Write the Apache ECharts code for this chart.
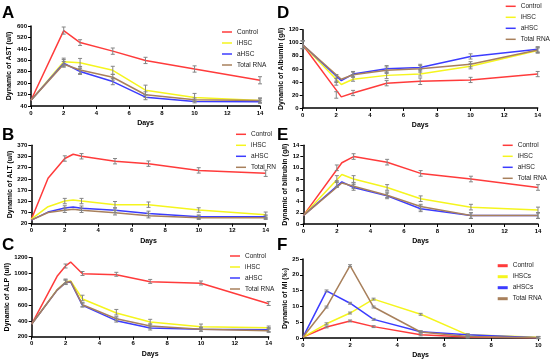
<!DOCTYPE html>
<html><head><meta charset="utf-8">
<script src="https://cdn.jsdelivr.net/npm/echarts@6/dist/echarts.min.js"></script>
<style>html,body{margin:0;padding:0;background:#fff}#c{width:550px;height:363px}</style>
</head><body><div id="c"></div>
<script>
// ---------- DATA ----------
// Panel A: AST
const A_x = [0, 2, 3, 5, 7, 10, 14];
const A_ctrl = [80, 568, 484, 424, 359, 299, 220];
const A_ihsc = [80, 350, 343, 290, 151, 100, 79];
const A_ahsc = [80, 340, 281, 211, 102, 72, 70];
const A_trna = [80, 332, 292, 241, 119, 84, 79];
const A_errX = [2, 3, 5, 7, 10, 14];
const A_ctrlE = [25, 20, 22, 22, 22, 25];
const A_ihscE = [25, 30, 28, 35, 28, 12];
const A_ahscE = [25, 20, 22, 18, 10, 10];
const A_trnaE = [20, 25, 20, 20, 12, 18];
const A_ctrlM = [568, 484, 424, 359, 299, 220];
const A_ihscM = [350, 343, 290, 151, 100, 79];
const A_ahscM = [340, 281, 211, 102, 72, 70];
const A_trnaM = [332, 292, 241, 119, 84, 79];

// Panel B: ALT
const B_x = [0, 1, 2, 2.5, 3, 5, 7, 10, 14];
const B_ctrl = [39, 223, 311, 330, 321, 299, 288, 258, 245];
const B_ihsc = [40, 96, 121, 126, 121, 105, 105, 81, 60];
const B_ahsc = [36, 72, 90, 95, 89, 80, 66, 51, 51];
const B_trna = [36, 70, 80, 84, 80, 69, 56, 47, 47];
const B_errX = [2, 3, 5, 7, 10, 14];
const B_ctrlM = [311, 321, 299, 288, 258, 245];
const B_ihscM = [121, 121, 105, 105, 81, 60];
const B_ahscM = [90, 89, 80, 66, 51, 51];
const B_trnaM = [80, 80, 69, 56, 47, 47];
const B_ctrlE = [12, 12, 12, 12, 12, 14];
const B_ihscE = [12, 12, 14, 12, 10, 12];
const B_ahscE = [10, 10, 10, 10, 8, 8];
const B_trnaE = [10, 10, 10, 10, 8, 8];

// Panel C: ALP
const C_x = [0, 1.5, 2, 2.3, 3, 5, 7, 10, 14];
const C_ctrl = [360, 964, 1095, 1145, 997, 985, 896, 876, 618];
const C_ihsc = [360, 795, 893, 906, 677, 500, 386, 327, 314];
const C_ahsc = [360, 790, 885, 893, 597, 403, 310, 293, 289];
const C_trna = [360, 790, 885, 900, 605, 428, 335, 293, 275];
const C_errX = [2, 3, 5, 7, 10, 14];
const C_ctrlM = [1095, 1000, 990, 900, 880, 620];
const C_ihscM = [900, 690, 510, 390, 330, 315];
const C_ahscM = [890, 600, 410, 310, 295, 290];
const C_trnaM = [890, 605, 428, 335, 295, 280];
const C_ctrlE = [25, 25, 25, 25, 25, 25];
const C_ihscE = [30, 35, 35, 30, 30, 20];
const C_ahscE = [30, 25, 25, 25, 25, 25];
const C_trnaE = [25, 25, 25, 25, 25, 25];

// Panel D: Albumin
const D_x = [0, 2.3, 3, 5, 7, 10, 14];
const D_ctrl = [97, 17, 23, 38, 41, 43, 52];
const D_ihsc = [97, 36, 44, 50, 52, 64, 88];
const D_ahsc = [97, 42, 52, 60, 62, 79, 90];
const D_trna = [97, 44, 51, 58, 60, 67, 89];
const D_errX = [0, 2, 3, 5, 7, 10, 14];
const D_ctrlM = [97, 20, 23, 38, 41, 43, 52];
const D_ihscM = [97, 40, 46, 50, 54, 64, 88];
const D_ahscM = [97, 45, 52, 60, 62, 79, 90];
const D_trnaM = [97, 46, 51, 58, 60, 67, 89];
const D_ctrlE = [6, 5, 4, 4, 5, 4, 4];
const D_ihscE = [6, 5, 5, 5, 5, 4, 4];
const D_ahscE = [6, 6, 4, 5, 5, 4, 4];
const D_trnaE = [6, 5, 4, 5, 5, 4, 4];

// Panel E: bilirubin
const E_x = [0, 2.3, 3, 5, 7, 10, 14];
const E_ctrl = [1.5, 10.9, 12, 11, 9, 8, 6.5];
const E_ihsc = [1.5, 8.8, 8, 6.5, 4.5, 3, 2.5];
const E_ahsc = [1.5, 7.5, 6.5, 5, 2.7, 1.5, 1.5];
const E_trna = [1.5, 7.3, 6.7, 5.1, 3.1, 1.5, 1.5];
const E_errX = [2, 3, 5, 7, 10, 14];
const E_ctrlM = [10, 12, 11, 9, 8, 6.5];
const E_ihscM = [8, 8, 6.5, 4.5, 3, 2.5];
const E_ahscM = [7.2, 6.5, 5, 2.7, 1.5, 1.5];
const E_trnaM = [7, 6.8, 5.2, 3, 1.5, 1.5];
const E_ctrlE = [0.5, 0.5, 0.5, 0.5, 0.5, 0.5];
const E_ihscE = [0.6, 0.6, 0.5, 0.5, 0.5, 0.5];
const E_ahscE = [0.5, 0.5, 0.5, 0.5, 0.5, 0.5];
const E_trnaE = [0.5, 0.5, 0.5, 0.5, 0.5, 0.5];

// Panel F: MI
const F_x = [0, 1, 2, 3, 5, 7, 10];
const F_ctrl = [0.3, 3.5, 5.4, 3.6, 1, 0.3, 0.1];
const F_ihsc = [0.3, 4.5, 7.9, 12.3, 7.5, 1, 0.2];
const F_ahsc = [0.3, 14.9, 11, 5.9, 2, 1, 0.1];
const F_trna = [0.3, 9.8, 22.9, 9.8, 1.9, 0.5, 0.1];
const F_errX = [1, 2, 3, 5, 7, 10];
const F_errV = [0.3, 0.3, 0.3, 0.3, 0.3, 0.3];

const namesABCDE = ['Control', 'iHSC', 'aHSC', 'Total RNA'];
const namesF = ['Control', 'iHSCs', 'aHSCs', 'Total RNA'];
const yNames = ['Dynamic of AST (u/l)', 'Dynamic of ALT (u/l)', 'Dynamic of ALP (u/l)',
  'Dynamic of Albumin (g/l)', 'Dynamic of bilirubin (g/l)', 'Dynamic of MI (‰)'];
const letters = ['A', 'B', 'C', 'D', 'E', 'F'];

// ---------- STYLE / LAYOUT ----------
const COLORS = ['#ff3b3b', '#f5f51e', '#3c3cff', '#a8805c'];
const FONT = 'Liberation Sans, Arial, sans-serif';
const grids = [
  {left: 31, top: 26, width: 229, height: 80},
  {left: 31.3, top: 145.3, width: 234.4, height: 78.4},
  {left: 31.7, top: 257.7, width: 237, height: 79},
  {left: 302.7, top: 29.7, width: 235, height: 78.3},
  {left: 303.3, top: 145.3, width: 234.7, height: 78.7},
  {left: 303, top: 259, width: 235.3, height: 79}
];
const yCfg = [
  {min: 40, max: 600, interval: 80, gap: 18},
  {min: 20, max: 370, interval: 50, gap: 18},
  {min: 200, max: 1200, interval: 200, gap: 20},
  {min: 0, max: 120, interval: 20, gap: 18},
  {min: 0, max: 14, interval: 2, gap: 15},
  {min: 0, max: 25, interval: 5, gap: 14.5}
];
const xMax = [14, 14, 14, 14, 14, 10];
const legendPos = [
  {left: 222, top: 28}, {left: 236, top: 130.3}, {left: 230, top: 252},
  {left: 505.7, top: 2.3}, {left: 502.7, top: 141.3}, {left: 497.7, top: 261.7}
];
const letterPos = [
  {left: 2, top: 5}, {left: 2, top: 127}, {left: 2, top: 237},
  {left: 277, top: 5}, {left: 277, top: 127}, {left: 277, top: 237}
];

const panels = [
  {x: A_x, ys: [A_ctrl, A_ihsc, A_ahsc, A_trna], ex: A_errX, em: [A_ctrlM, A_ihscM, A_ahscM, A_trnaM], ee: [A_ctrlE, A_ihscE, A_ahscE, A_trnaE], names: namesABCDE},
  {x: B_x, ys: [B_ctrl, B_ihsc, B_ahsc, B_trna], ex: B_errX, em: [B_ctrlM, B_ihscM, B_ahscM, B_trnaM], ee: [B_ctrlE, B_ihscE, B_ahscE, B_trnaE], names: namesABCDE},
  {x: C_x, ys: [C_ctrl, C_ihsc, C_ahsc, C_trna], ex: C_errX, em: [C_ctrlM, C_ihscM, C_ahscM, C_trnaM], ee: [C_ctrlE, C_ihscE, C_ahscE, C_trnaE], names: namesABCDE},
  {x: D_x, ys: [D_ctrl, D_ihsc, D_ahsc, D_trna], ex: D_errX, em: [D_ctrlM, D_ihscM, D_ahscM, D_trnaM], ee: [D_ctrlE, D_ihscE, D_ahscE, D_trnaE], names: namesABCDE},
  {x: E_x, ys: [E_ctrl, E_ihsc, E_ahsc, E_trna], ex: E_errX, em: [E_ctrlM, E_ihscM, E_ahscM, E_trnaM], ee: [E_ctrlE, E_ihscE, E_ahscE, E_trnaE], names: namesABCDE},
  {x: F_x, ys: [F_ctrl, F_ihsc, F_ahsc, F_trna], ex: F_errX,
   em: [F_ctrl.slice(1), F_ihsc.slice(1), F_ahsc.slice(1), F_trna.slice(1)], ee: [F_errV, F_errV, F_errV, F_errV], names: namesF}
];

function errRender(params, api) {
  const x = api.value(0), y = api.value(1), e = api.value(2);
  const t = api.coord([x, y + e]), b = api.coord([x, y - e]);
  const w = 2;
  const st = {stroke: '#858585', lineWidth: 1};
  return {type: 'group', children: [
    {type: 'line', shape: {x1: t[0], y1: t[1], x2: b[0], y2: b[1]}, style: st},
    {type: 'line', shape: {x1: t[0] - w, y1: t[1], x2: t[0] + w, y2: t[1]}, style: st},
    {type: 'line', shape: {x1: b[0] - w, y1: b[1], x2: b[0] + w, y2: b[1]}, style: st}
  ]};
}

const plain = v => String(v);
const xAxes = [], yAxes = [], series = [], legends = [], titles = [];
panels.forEach((p, i) => {
  xAxes.push({
    type: 'value', gridIndex: i, min: 0, max: xMax[i], interval: 2,
    name: 'Days', nameLocation: 'middle', nameGap: 14,
    nameTextStyle: {fontFamily: FONT, fontSize: 7, fontWeight: 'bold', color: '#000'},
    axisLine: {lineStyle: {color: '#000', width: 1.5}},
    axisTick: {show: true, length: 3, lineStyle: {color: '#000', width: 1}},
    axisLabel: {fontFamily: FONT, fontSize: 6, fontWeight: 'bold', color: '#000', margin: 4, formatter: plain},
    splitLine: {show: false}
  });
  yAxes.push({
    type: 'value', gridIndex: i, min: yCfg[i].min, max: yCfg[i].max, interval: yCfg[i].interval,
    name: yNames[i], nameLocation: 'middle', nameGap: yCfg[i].gap,
    nameTextStyle: {fontFamily: FONT, fontSize: 7, fontWeight: 'bold', color: '#000'},
    axisLine: {show: true, lineStyle: {color: '#000', width: 1.5}},
    axisTick: {show: true, length: 3, lineStyle: {color: '#000', width: 1}},
    axisLabel: {fontFamily: FONT, fontSize: 6, fontWeight: 'bold', color: '#000', margin: 4, formatter: plain},
    splitLine: {show: false}
  });
  p.ys.forEach((ys, k) => {
    series.push({
      type: 'line', name: p.names[k], xAxisIndex: i, yAxisIndex: i,
      data: p.x.map((xv, j) => [xv, ys[j]]),
      symbol: 'none', lineStyle: {color: COLORS[k], width: 1.5}, itemStyle: {color: COLORS[k]},
      z: 2, animation: false
    });
  });
  p.em.forEach((m, k) => {
    series.push({
      type: 'custom', xAxisIndex: i, yAxisIndex: i,
      data: p.ex.map((xv, j) => [xv, m[j], p.ee[k][j]]),
      renderItem: errRender, z: 3, animation: false, silent: true,
      encode: {x: 0, y: 1}
    });
  });
  legends.push({
    orient: 'vertical', left: legendPos[i].left, top: legendPos[i].top, padding: 0,
    itemGap: 3, itemWidth: 10, itemHeight: i === 5 ? 3 : 1.5, icon: 'rect',
    data: p.names,
    textStyle: Object.assign({fontFamily: FONT, fontSize: 6.5, color: '#222', lineHeight: 8},
      i === 1 ? {width: 26, overflow: 'truncate', ellipsis: ''} : {})
  });
  titles.push({
    text: letters[i], left: letterPos[i].left, top: letterPos[i].top, padding: 0,
    textStyle: {fontFamily: FONT, fontSize: 17, fontWeight: 'bold', color: '#000'}
  });
});

const chart = echarts.init(document.getElementById('c'), null, {renderer: 'canvas'});
chart.setOption({
  animation: false,
  backgroundColor: '#fff',
  color: COLORS,
  title: titles,
  grid: grids,
  xAxis: xAxes,
  yAxis: yAxes,
  legend: legends,
  series: series
});
</script></body></html>
